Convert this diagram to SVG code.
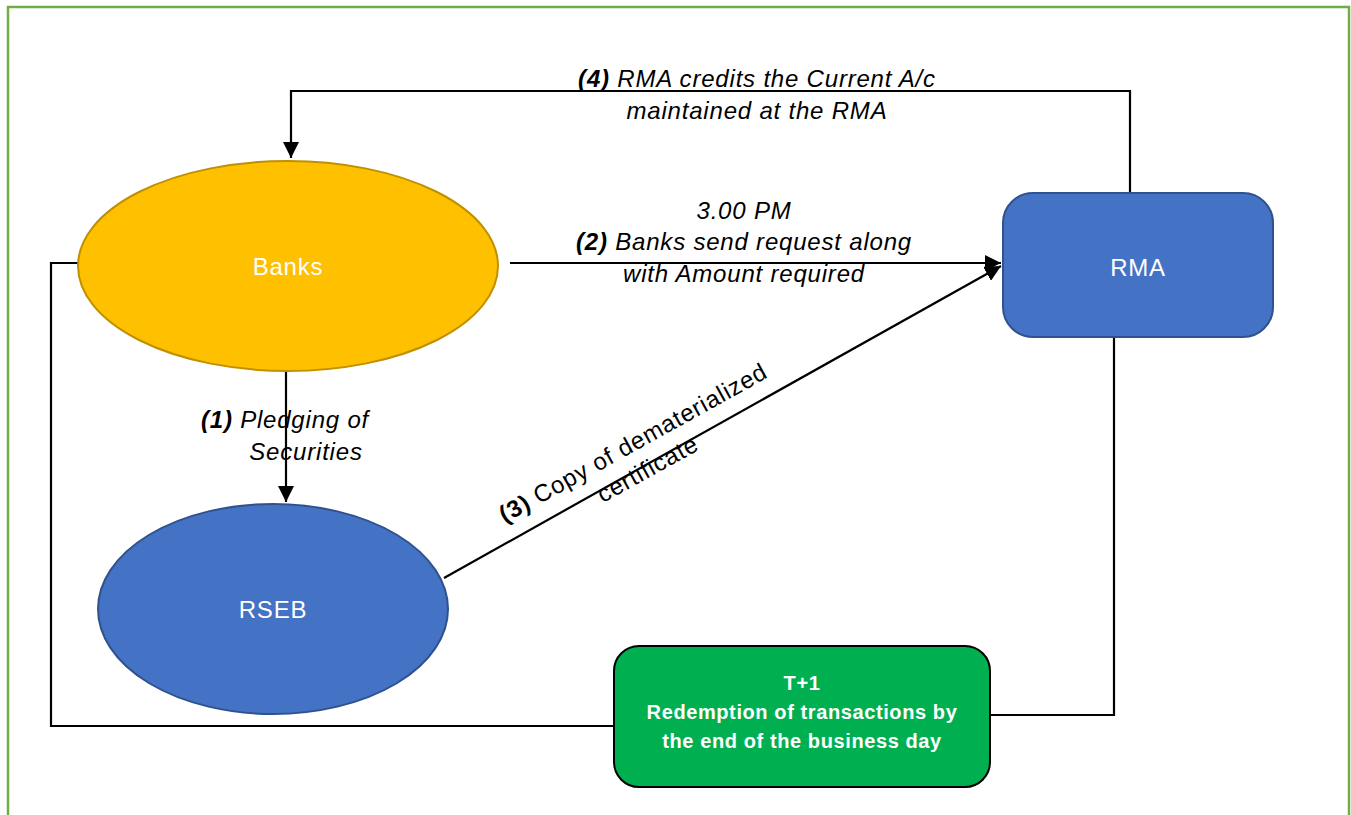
<svg xmlns="http://www.w3.org/2000/svg" width="1351" height="815" viewBox="0 0 1351 815">
<defs>
<style>
.edge{fill:none;stroke:#000;stroke-width:2.2}
.lbl{font-family:"Liberation Sans",Arial,sans-serif;font-size:24px;letter-spacing:0.8px;font-style:italic;fill:#000;text-anchor:middle}
.lbl .b{font-weight:bold}
.node{font-family:"Liberation Sans",Arial,sans-serif;font-size:24px;letter-spacing:0.8px;fill:#fff;text-anchor:middle}
.gtxt{font-family:"Liberation Sans",Arial,sans-serif;font-size:20px;letter-spacing:0.6px;font-weight:bold;fill:#fff;text-anchor:middle}
</style>
<marker id="arr" markerUnits="userSpaceOnUse" markerWidth="18" markerHeight="16" refX="16" refY="8" orient="auto">
<path d="M0,0 L16,8 L0,16 Z" fill="#000"/>
</marker>
</defs>
<rect x="8" y="7" width="1341" height="820" fill="#fff" stroke="#70AD47" stroke-width="2.5"/>
<g id="connectors">
<path class="edge" d="M1130,193 V91 H291 V158" marker-end="url(#arr)"/>
<path class="edge" d="M510,263 H1001" marker-end="url(#arr)"/>
<path class="edge" d="M286,371 V502" marker-end="url(#arr)"/>
<path class="edge" d="M444,578 L1001,266" marker-end="url(#arr)"/>
<path class="edge" d="M1114,338 V715 H991"/>
<path class="edge" d="M614,726 H51 V263 H78"/>
</g>
<g id="banks">
<ellipse cx="288" cy="266" rx="210" ry="105" fill="#FFC000" stroke="#BF9000" stroke-width="2"/>
<text class="node" x="288" y="275">Banks</text>
</g>
<g id="rseb">
<ellipse cx="273" cy="609" rx="175" ry="105" fill="#4472C4" stroke="#2F528F" stroke-width="2"/>
<text class="node" x="273" y="618">RSEB</text>
</g>
<g id="rma">
<rect x="1003" y="193" width="270" height="144" rx="30" fill="#4472C4" stroke="#2F528F" stroke-width="2"/>
<text class="node" x="1138" y="276">RMA</text>
</g>
<g id="redemption">
<rect x="614" y="646" width="376" height="141" rx="25" fill="#00B050" stroke="#000" stroke-width="2"/>
<text class="gtxt" x="802" y="690">T+1</text>
<text class="gtxt" x="802" y="719">Redemption of transactions by</text>
<text class="gtxt" x="802" y="748">the end of the business day</text>
</g>
<g id="labels">
<text class="lbl" x="757" y="87"><tspan class="b">(4)</tspan> RMA credits the Current A/c</text>
<text class="lbl" x="757" y="119">maintained at the RMA</text>
<text class="lbl" x="744" y="219">3.00 PM</text>
<text class="lbl" x="744" y="250"><tspan class="b">(2)</tspan> Banks send request along</text>
<text class="lbl" x="744" y="282">with Amount required</text>
<text class="lbl" x="285" y="428"><tspan class="b">(1)</tspan> Pledging of</text>
<text class="lbl" x="306" y="460">Securities</text>
<g transform="translate(637,450) rotate(-29)">
<text class="lbl" x="0" y="0" style="font-style:normal"><tspan class="b">(3)</tspan> Copy of dematerialized</text>
<text class="lbl" x="0" y="30" style="font-style:normal">certificate</text>
</g>
</g>
</svg>
